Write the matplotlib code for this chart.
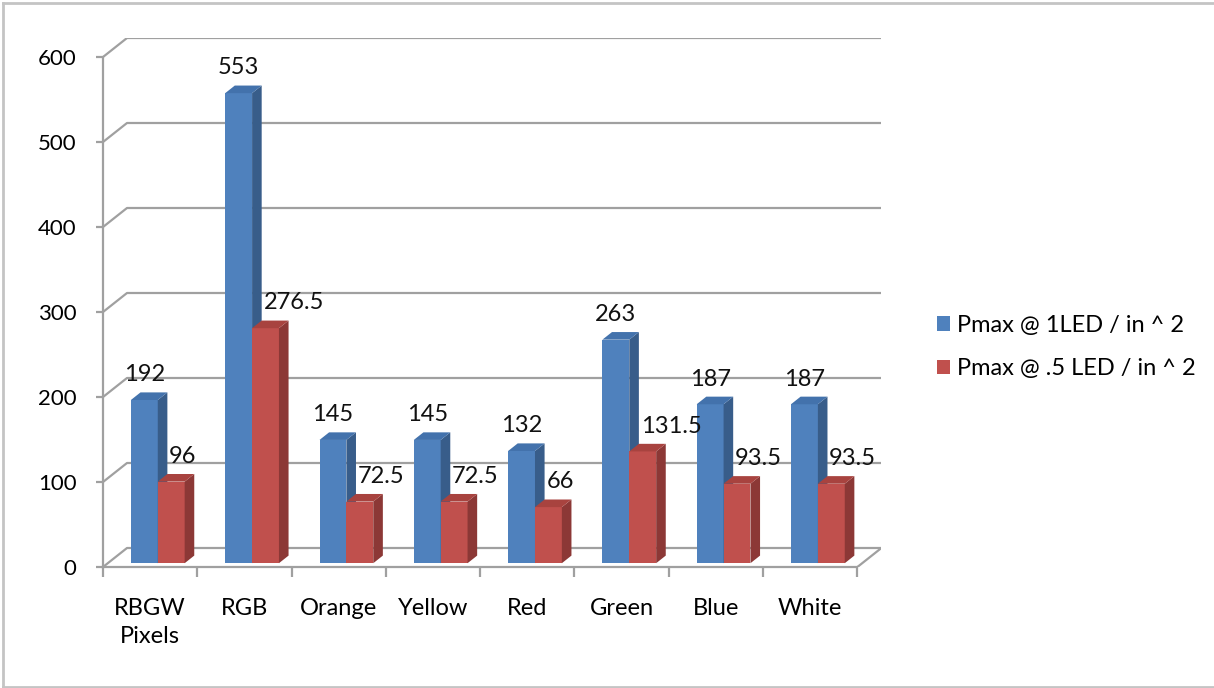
import matplotlib
matplotlib.use('Agg')
import matplotlib.pyplot as plt
from matplotlib.patches import Polygon, Rectangle, Patch
from matplotlib.lines import Line2D

# Données
categories = ['RBGW\nPixels', 'RGB', 'Orange', 'Yellow', 'Red', 'Green', 'Blue', 'White']
pmax_1led = [192, 553, 145, 145, 132, 263, 187, 187]
pmax_half = [96, 276.5, 72.5, 72.5, 66, 131.5, 93.5, 93.5]
labels_1led = ['192', '553', '145', '145', '132', '263', '187', '187']
labels_half = ['96', '276.5', '72.5', '72.5', '66', '131.5', '93.5', '93.5']
series_names = ['Pmax @ 1LED / in ^ 2', 'Pmax @ .5 LED / in ^ 2']
y_ticks = [0, 100, 200, 300, 400, 500, 600]

plt.rcParams['font.family'] = ['Lato', 'DejaVu Sans']
FS = 17

W, H = 1214, 688
fig = plt.figure(figsize=(W / 100, H / 100), dpi=100)

# profondeur 3D (px -> unités)
px_x = 94.3      # px par catégorie
px_y = 0.85      # px par unité de valeur
DX = 24 / px_x
DY = 19 / px_y
n = len(categories)
ymax = 600

left, right, bottom, top = 103, 103 + (n + DX) * px_x, 567, 567 - (ymax + DY) * px_y
ax = fig.add_axes([left / W, (H - bottom) / H, (right - left) / W, (bottom - top) / H])
ax.set_xlim(0, n + DX)
ax.set_ylim(0, ymax + DY)

grid_c = '#a0a0a0'
# murs et grille
for y in y_ticks:
    ax.plot([0, DX, n + DX], [y, y + DY, y + DY], color=grid_c, lw=1.6, zorder=1,
            solid_capstyle='butt')
ax.plot([n, n + DX], [0, DY], color=grid_c, lw=1.6, zorder=1)

# barres 3D
f0, f1 = 0.2, 0.6
bw = 0.285
colors = [('#4f81bd', '#385d8a', '#4372ac'), ('#c0504d', '#8c3836', '#a8433f')]
for i in range(n):
    for s, vals in enumerate([pmax_1led, pmax_half]):
        v = vals[i]
        front, side, topc = colors[s]
        x0 = i + 0.245 + s * bw + f0 * DX
        y0 = f0 * DY
        ddx = (f1 - f0) * DX
        ddy = (f1 - f0) * DY
        ax.add_patch(Rectangle((x0, y0), bw, v, facecolor=front, edgecolor='none', zorder=3))
        ax.add_patch(Polygon([(x0 + bw, y0), (x0 + bw + ddx, y0 + ddy),
                              (x0 + bw + ddx, y0 + ddy + v), (x0 + bw, y0 + v)],
                             closed=True, facecolor=side, edgecolor='none', zorder=3))
        ax.add_patch(Polygon([(x0, y0 + v), (x0 + ddx, y0 + ddy + v),
                              (x0 + bw + ddx, y0 + ddy + v), (x0 + bw, y0 + v)],
                             closed=True, facecolor=topc, edgecolor='none', zorder=3))
        if s == 0:
            ax.annotate(labels_1led[i], (x0 + bw / 2, y0 + v), xytext=(0, 13.5),
                        textcoords='offset points', ha='center', va='baseline',
                        fontsize=FS, color='#111111', zorder=5)
        else:
            ax.annotate(labels_half[i], (x0 + 0.12, y0 + v), xytext=(0, 13.5),
                        textcoords='offset points', ha='left', va='baseline',
                        fontsize=FS, color='#111111', zorder=5)

# axes
for sp in ['top', 'right']:
    ax.spines[sp].set_visible(False)
ax.spines['left'].set_bounds(0, ymax)
ax.spines['bottom'].set_bounds(0, n)
for sp in ['left', 'bottom']:
    ax.spines[sp].set_color(grid_c)
    ax.spines[sp].set_linewidth(1.6)
    ax.spines[sp].set_zorder(2)
ax.set_yticks(y_ticks)
ax.set_yticklabels([str(t) for t in y_ticks], fontsize=16)
ax.set_xticks(range(n + 1))
ax.set_xticklabels([])
ax.set_xticks([i + 0.5 for i in range(n)], minor=True)
ax.set_xticklabels(categories, minor=True, fontsize=FS, linespacing=1.45)
ax.tick_params(axis='y', length=5, width=1.6, color=grid_c, pad=14)
ax.tick_params(axis='x', which='major', length=7, width=1.6, color=grid_c)
ax.tick_params(axis='x', which='minor', length=0, pad=22)
ax.patch.set_visible(False)

# légende
handles = [Patch(facecolor=colors[0][0]), Patch(facecolor=colors[1][0])]
fig.legend(handles, series_names, loc='center left', bbox_to_anchor=(916 / W, 1 - 347 / H),
           frameon=False, fontsize=FS, handlelength=0.55, handleheight=0.55,
           handletextpad=0.3, labelspacing=0.95)

# cadre
for xs, ys in [([3, 3], [3, 687]), ([3, W], [3, 3]), ([3, W], [687, 687])]:
    fig.add_artist(Line2D([x / W for x in xs], [1 - y / H for y in ys], color='#c4c4c4', lw=2))

plt.savefig('out.png', dpi=100)
